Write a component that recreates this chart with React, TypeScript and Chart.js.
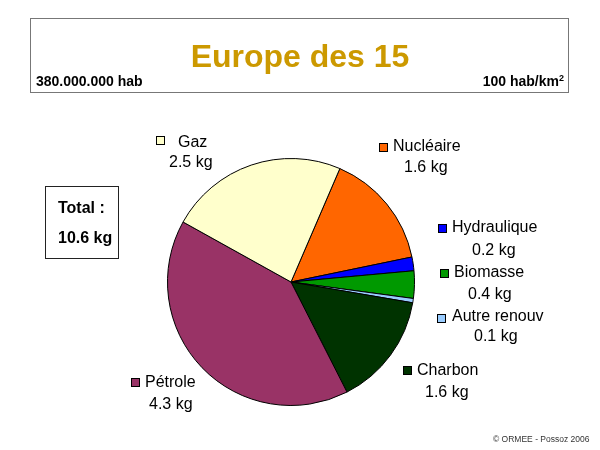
import React, { useEffect, useRef } from "react";
import { Chart, registerables } from "chart.js";

Chart.register(...registerables);

// ---- data ----
const categories = ["Nucléaire", "Hydraulique", "Biomasse", "Autre renouv", "Charbon", "Pétrole", "Gaz"];
const values = [1.62, 0.19, 0.38, 0.06, 1.57, 4.3, 2.48];
const valueLabels = ["1.6 kg", "0.2 kg", "0.4 kg", "0.1 kg", "1.6 kg", "4.3 kg", "2.5 kg"];
const colors = ["#FF6600", "#0000FF", "#009900", "#99CCFF", "#003300", "#993366", "#FFFFCC"];
const titleText = "Europe des 15";
const populationText = "380.000.000 hab";
const densityText = "100 hab/km";
const totalLines = ["Total :", "10.6 kg"];
const creditText = "© ORMEE - Possoz 2006";

// ---- label layout (positions only) ----
// sq: [left, top], name: [left, baseline], val: [left, baseline]
const labelLayout = [
  { sq: [379, 143], name: [393, 152], val: [404, 173] },
  { sq: [438, 224], name: [452, 233], val: [472, 256] },
  { sq: [440, 269], name: [454, 278], val: [468, 300] },
  { sq: [437, 314], name: [452, 322], val: [474, 342] },
  { sq: [403, 366], name: [417, 376], val: [425, 398] },
  { sq: [131, 378], name: [145, 388], val: [149, 410] },
  { sq: [156, 136], name: [178, 148], val: [169, 168] },
];

const FONT = '"Liberation Sans", Arial, Helvetica, sans-serif';

function T(props: { x: number; base: number; fs: number; bold?: boolean; right?: boolean; color?: string; center?: boolean; children: any }) {
  const { x, base, fs, bold, right, color, center, children } = props;
  const style: any = {
    position: "absolute",
    top: base - 0.8465 * fs,
    fontSize: fs,
    lineHeight: `${fs}px`,
    fontFamily: FONT,
    fontWeight: bold ? "bold" : "normal",
    color: color || "#000",
    whiteSpace: "nowrap",
  };
  if (center) {
    style.left = x;
    style.transform = "translateX(-50%)";
  } else if (right) {
    style.right = 600 - x;
  } else {
    style.left = x;
  }
  return <div style={style}>{children}</div>;
}

export default function App() {
  const ref = useRef<HTMLCanvasElement | null>(null);

  useEffect(() => {
    if (!ref.current) return;
    const chart = new Chart(ref.current, {
      type: "pie",
      data: {
        labels: categories,
        datasets: [
          {
            data: values,
            backgroundColor: colors,
            borderColor: "#000000",
            borderWidth: 1,
          },
        ],
      },
      options: {
        animation: false,
        responsive: false,
        rotation: 23.3,
        layout: { padding: { left: 167, right: 185, top: 158, bottom: 44 } },
        plugins: {
          legend: { display: false },
          tooltip: { enabled: false },
          title: { display: false },
        },
      },
    });
    return () => chart.destroy();
  }, []);

  return (
    <div style={{ position: "absolute", left: 0, top: 0, width: 600, height: 450, background: "#fff", overflow: "hidden" }}>
      <canvas ref={ref} width={600} height={450} style={{ position: "absolute", left: 0, top: 0, width: 600, height: 450 }} />
      {/* title box */}
      <div style={{ position: "absolute", left: 30, top: 18, width: 539, height: 75, boxSizing: "border-box", border: "1.5px solid #777" }} />
      <T x={300} base={67} fs={32} bold center color="#CC9900">{titleText}</T>
      <T x={36} base={86} fs={14} bold>{populationText}</T>
      <T x={564} base={86} fs={14} bold right>
        {densityText}
        <span style={{ fontSize: 9, position: "relative", top: -5 }}>2</span>
      </T>
      {/* total box */}
      <div style={{ position: "absolute", left: 45, top: 186, width: 74, height: 73, boxSizing: "border-box", border: "1.5px solid #222" }} />
      <T x={58} base={214} fs={16} bold>{totalLines[0]}</T>
      <T x={58} base={244} fs={16} bold>{totalLines[1]}</T>
      {/* slice labels */}
      {categories.map((c, i) => {
        const l = labelLayout[i];
        return (
          <React.Fragment key={c}>
            <div style={{ position: "absolute", left: l.sq[0], top: l.sq[1], width: 9, height: 9, boxSizing: "border-box", border: "1px solid #000", background: colors[i] }} />
            <T x={l.name[0]} base={l.name[1]} fs={16}>{c}</T>
            <T x={l.val[0]} base={l.val[1]} fs={16}>{valueLabels[i]}</T>
          </React.Fragment>
        );
      })}
      <T x={493} base={442} fs={8.5} color="#333">{creditText}</T>
    </div>
  );
}
